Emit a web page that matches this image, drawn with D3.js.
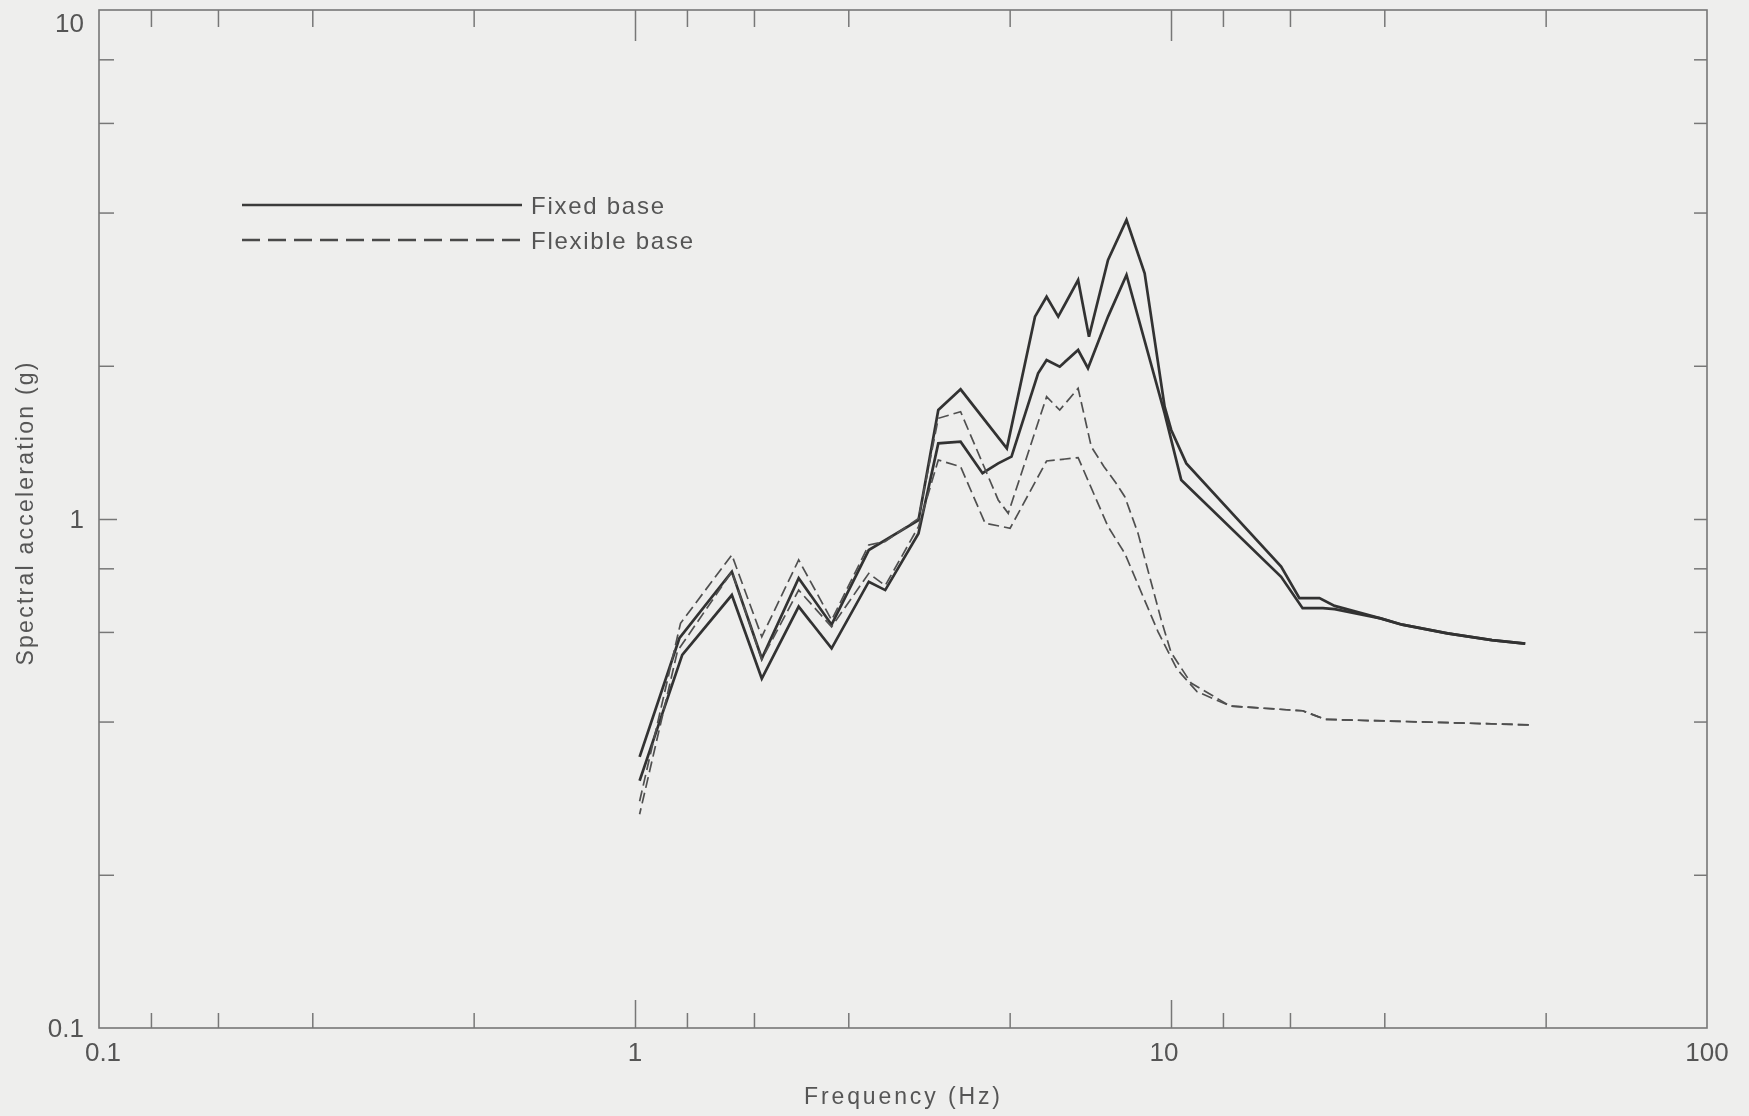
<!DOCTYPE html>
<html>
<head>
<meta charset="utf-8">
<script src="https://cdn.jsdelivr.net/npm/d3@7"></script>
<style>
  html, body { margin: 0; padding: 0; background: #eeeeed; }
  svg { display: block; }
  text { font-family: "Liberation Sans", Arial, sans-serif; fill: #555; }
</style>
</head>
<body>
<svg id="chart" width="1749" height="1116"></svg>
<script>
// Spectral acceleration (g) vs frequency (Hz), fixed base — two response components
const fixedBaseA = [
  [1.02, 0.341], [1.21, 0.583], [1.516, 0.788], [1.724, 0.532], [2.02, 0.765],
  [2.327, 0.62], [2.73, 0.869], [3.38, 0.995], [3.68, 1.638], [4.05, 1.798],
  [4.94, 1.377], [5.575, 2.498], [5.86, 2.733], [6.16, 2.498], [6.71, 2.948],
  [7.03, 2.281], [7.63, 3.228], [8.26, 3.868], [8.93, 3.039], [9.73, 1.662],
  [10.01, 1.496], [10.68, 1.286], [16.05, 0.806], [17.36, 0.699], [18.92, 0.699],
  [20.2, 0.675], [24.6, 0.638], [27.0, 0.620], [32.8, 0.596], [39.7, 0.578], [45.8, 0.569]
];
const fixedBaseB = [
  [1.02, 0.306], [1.225, 0.541], [1.516, 0.709], [1.724, 0.486], [2.02, 0.673],
  [2.327, 0.557], [2.73, 0.753], [2.93, 0.725], [3.38, 0.937], [3.68, 1.408],
  [4.05, 1.419], [4.45, 1.23], [4.76, 1.286], [5.04, 1.326], [5.65, 1.933],
  [5.86, 2.053], [6.2, 1.992], [6.71, 2.148], [7.0, 1.978], [7.63, 2.498],
  [8.26, 3.016], [9.73, 1.613], [10.45, 1.193], [16.05, 0.770], [17.6, 0.668],
  [19.2, 0.668], [20.2, 0.665], [24.6, 0.638], [27.0, 0.620], [32.8, 0.596],
  [39.7, 0.578], [45.8, 0.569]
];
// Flexible base — two response components
const flexibleBaseA = [
  [1.02, 0.279], [1.216, 0.624], [1.516, 0.85], [1.724, 0.587], [2.02, 0.831],
  [2.327, 0.633], [2.73, 0.889], [2.93, 0.903], [3.38, 1.003], [3.68, 1.577],
  [4.05, 1.625], [4.76, 1.09], [4.97, 1.026], [5.86, 1.739], [6.2, 1.637],
  [6.71, 1.806], [7.1, 1.387], [7.5, 1.267], [7.9, 1.175], [8.2, 1.106],
  [8.68, 0.937], [9.59, 0.633], [10.0, 0.547], [10.9, 0.476], [12.9, 0.429],
  [17.6, 0.420], [19.4, 0.404], [46.9, 0.394]
];
const flexibleBaseB = [
  [1.02, 0.263], [1.2, 0.55], [1.516, 0.788], [1.724, 0.53], [2.02, 0.725],
  [2.327, 0.614], [2.73, 0.782], [2.93, 0.74], [3.38, 0.966], [3.68, 1.306],
  [4.05, 1.267], [4.5, 0.981], [5.01, 0.959], [5.86, 1.30], [6.71, 1.32],
  [7.63, 0.966], [8.2, 0.856], [9.46, 0.60], [10.26, 0.507], [11.18, 0.458],
  [12.9, 0.429], [17.6, 0.420], [19.4, 0.404], [46.9, 0.394]
];

// Axis ticks: decades are labelled, intermediate marks are unlabelled
const xMajorTicks = [0.1, 1, 10, 100];
const xMinorTicks = [0.125, 0.1667, 0.25, 0.5, 1.25, 1.667, 2.5, 5, 12.5, 16.67, 25, 50];
const yMajorTicks = [0.1, 1, 10];
const yMinorTicks = [0.2, 0.4, 0.6, 0.8, 2, 4, 6, 8];
const xTickLabels = ["0.1", "1", "10", "100"];
const yTickLabels = ["0.1", "1", "10"];

const legendLabels = ["Fixed base", "Flexible base"];
const xTitle = "Frequency (Hz)";
const yTitle = "Spectral acceleration (g)";

const svg = d3.select("#chart");
const plotLeft = 99, plotRight = 1707, plotTop = 10, plotBottom = 1028;

const x = d3.scaleLog().domain([0.1, 100]).range([plotLeft, plotRight]);
const y = d3.scaleLog().domain([0.1, 10]).range([plotBottom, plotTop]);

const soft = svg.append("defs").append("filter").attr("id", "soft");
soft.append("feGaussianBlur").attr("stdDeviation", 0.55);

const g = svg.append("g").attr("filter", "url(#soft)");

const axisColor = "#777";

// Frame
g.append("rect")
  .attr("x", plotLeft).attr("y", plotTop)
  .attr("width", plotRight - plotLeft).attr("height", plotBottom - plotTop)
  .attr("fill", "none").attr("stroke", axisColor).attr("stroke-width", 1.6);

// Inward-facing tick marks on all four sides
function tickAxis(axisGen, tx, ty) {
  const a = g.append("g").attr("transform", `translate(${tx},${ty})`).call(axisGen);
  a.select(".domain").remove();
  a.selectAll(".tick line").attr("stroke", axisColor).attr("stroke-width", 1.5);
  a.selectAll("text").remove();
  return a;
}
tickAxis(d3.axisBottom(x).tickValues(xMinorTicks).tickSize(-15).tickFormat(""), 0, plotBottom);
tickAxis(d3.axisBottom(x).tickValues([1, 10]).tickSize(-28).tickFormat(""), 0, plotBottom);
tickAxis(d3.axisTop(x).tickValues(xMinorTicks).tickSize(-17).tickFormat(""), 0, plotTop);
tickAxis(d3.axisTop(x).tickValues([1, 10]).tickSize(-31).tickFormat(""), 0, plotTop);
tickAxis(d3.axisLeft(y).tickValues(yMinorTicks).tickSize(-15).tickFormat(""), plotLeft, 0);
tickAxis(d3.axisLeft(y).tickValues([1]).tickSize(-18).tickFormat(""), plotLeft, 0);
tickAxis(d3.axisRight(y).tickValues(yMinorTicks).tickSize(-13).tickFormat(""), plotRight, 0);
tickAxis(d3.axisRight(y).tickValues([1]).tickSize(-13).tickFormat(""), plotRight, 0);

// Tick labels
g.selectAll(".xlab").data(xMajorTicks).enter().append("text")
  .attr("x", d => x(d) + (d === 0.1 ? 4 : d === 10 ? -7 : 0))
  .attr("y", plotBottom + 24)
  .attr("dy", "0.35em")
  .attr("text-anchor", "middle")
  .attr("font-size", 26)
  .text((d, i) => xTickLabels[i]);

g.selectAll(".ylab").data(yMajorTicks).enter().append("text")
  .attr("x", plotLeft - 15)
  .attr("y", d => Math.max(y(d), plotTop + 13))
  .attr("dy", "0.35em")
  .attr("text-anchor", "end")
  .attr("font-size", 26)
  .text((d, i) => yTickLabels[i]);

// Axis titles
g.append("text")
  .attr("x", (x(1) + x(10)) / 2 - 1)
  .attr("y", 1104)
  .attr("text-anchor", "middle")
  .attr("font-size", 23)
  .attr("textLength", 196).attr("lengthAdjust", "spacing")
  .text(xTitle);

g.append("text")
  .attr("transform", "translate(33,514) rotate(-90)")
  .attr("text-anchor", "middle")
  .attr("font-size", 23)
  .attr("textLength", 303).attr("lengthAdjust", "spacing")
  .text(yTitle);

// Spectra
const line = d3.line().x(d => x(d[0])).y(d => y(d[1]));
const solidStyle = { stroke: "#333", width: 2.7, dash: null };
const dashStyle = { stroke: "#505050", width: 1.7, dash: "11,5" };

function drawSpectrum(data, s, dashOffset) {
  return g.append("path")
    .datum(data)
    .attr("d", line)
    .attr("fill", "none")
    .attr("stroke", s.stroke)
    .attr("stroke-width", s.width)
    .attr("stroke-dasharray", s.dash)
    .attr("stroke-dashoffset", dashOffset || 0)
    .attr("stroke-linejoin", "miter");
}

// Length of a series' polyline up to (and including) a given frequency
function lengthTo(data, freq) {
  const part = data.filter(d => d[0] <= freq);
  const tmp = g.append("path").attr("d", line(part));
  const len = tmp.node().getTotalLength();
  tmp.remove();
  return len;
}

drawSpectrum(fixedBaseA, solidStyle);
drawSpectrum(fixedBaseB, solidStyle);
drawSpectrum(flexibleBaseA, dashStyle);
// The two flexible-base spectra coincide above 12.9 Hz; keep their dashes in phase there
const sharedFrom = 12.9;
drawSpectrum(flexibleBaseB, dashStyle,
  lengthTo(flexibleBaseA, sharedFrom) - lengthTo(flexibleBaseB, sharedFrom));

// Legend
const legendRows = [
  { label: legendLabels[0], y: 205, dash: null, width: 2.6, stroke: "#3a3a3a", len: 133 },
  { label: legendLabels[1], y: 240, dash: "18,8", width: 2.4, stroke: "#4a4a4a", len: 162 }
];
legendRows.forEach(r => {
  g.append("line")
    .attr("x1", 242).attr("x2", 522)
    .attr("y1", r.y).attr("y2", r.y)
    .attr("stroke", r.stroke).attr("stroke-width", r.width)
    .attr("stroke-dasharray", r.dash);
  g.append("text")
    .attr("x", 531).attr("y", r.y + 9)
    .attr("font-size", 24)
    .attr("textLength", r.len).attr("lengthAdjust", "spacing")
    .text(r.label);
});
</script>
</body>
</html>
